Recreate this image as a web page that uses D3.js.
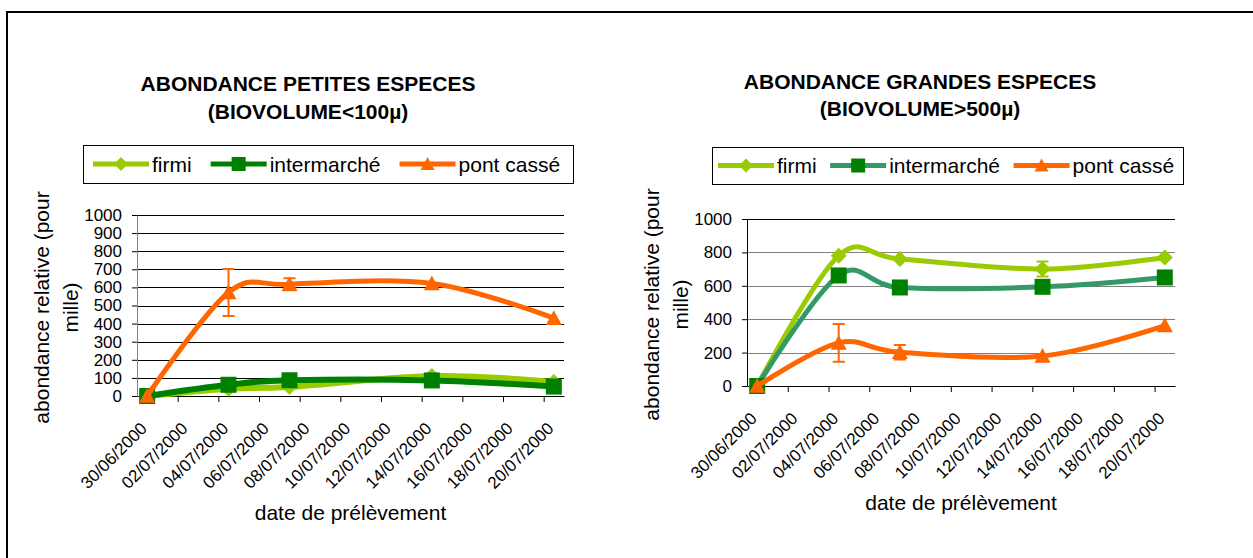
<!DOCTYPE html>
<html>
<head>
<meta charset="utf-8">
<script src="https://cdn.jsdelivr.net/npm/d3@7"></script>
<style>
  body { margin: 0; background: #fff; }
  svg { display: block; font-family: 'Liberation Sans', Arial, sans-serif; }
</style>
</head>
<body>
<div id="vis"></div>
<script>
// sampling dates and axis ticks
const sampleDates = ['30/06/2000', '04/07/2000', '07/07/2000', '14/07/2000', '20/07/2000'];
const tickLabels = ['30/06/2000', '02/07/2000', '04/07/2000', '06/07/2000', '08/07/2000',
  '10/07/2000', '12/07/2000', '14/07/2000', '16/07/2000', '18/07/2000', '20/07/2000'];
const seriesNames = ['firmi', 'intermarché', 'pont cassé'];

// petites especes (biovolume < 100)
const smallFirmi = [0, 40, 50, 110, 78];
const smallIntermarche = [0, 62, 87, 86, 52];
const smallPontCasse = [0, 572, 617, 622, 430];
const smallPontCasseErr = [0, 130, 33, 0, 0];
const smallTicks = [0, 100, 200, 300, 400, 500, 600, 700, 800, 900, 1000];

// grandes especes (biovolume > 500)
const largeFirmi = [0, 780, 760, 700, 770];
const largeFirmiErr = [0, 0, 0, 45, 0];
const largeIntermarche = [0, 662, 590, 594, 650];
const largePontCasse = [0, 258, 202, 180, 362];
const largePontCasseErr = [0, 113, 44, 0, 0];
const largeTicks = [0, 200, 400, 600, 800, 1000];

const parseDate = d3.timeParse('%d/%m/%Y');
const formatDate = d3.timeFormat('%d/%m/%Y');

const markers = {
  diamond: r => `M0,${-r}L${r},0L0,${r}L${-r},0Z`,
  square: r => `M${-r},${-r}h${2 * r}v${2 * r}h${-2 * r}Z`,
  triangle: r => `M0,${-r}L${r},${r * 0.85}L${-r},${r * 0.85}Z`
};


function getSvg() {
  const svg = d3.select('#vis').append('svg')
      .attr('width', 1253)
      .attr('height', 558);

  svg.append('path')
      .attr('d', 'M7,558V12H1253')
      .attr('fill', 'none')
      .attr('stroke', '#000')
      .attr('stroke-width', 2);

  return svg;
}


function drawChart(svg, cfg) {
  const plot = cfg.plot;
  const dates = sampleDates.map(parseDate);
  const ticks = tickLabels.map(parseDate);

  const x = d3.scaleTime()
      .domain([ticks[0], d3.timeDay.offset(ticks[ticks.length - 1], 1)])
      .range([plot.left, plot.right]);

  const y = d3.scaleLinear()
      .domain([0, d3.max(cfg.yTicks)])
      .range([plot.bottom, plot.top]);

  // excel puts each point in the middle of its day
  const px = i => x(d3.timeHour.offset(dates[i], 12));

  // gridlines
  svg.append('g')
    .selectAll('line')
    .data(cfg.yTicks.filter(d => d > 0))
    .join('line')
      .attr('x1', plot.left)
      .attr('x2', plot.right)
      .attr('y1', d => Math.round(y(d)) + 0.5)
      .attr('y2', d => Math.round(y(d)) + 0.5)
      .attr('stroke', d => d === d3.max(cfg.yTicks) ? '#000' : cfg.gridColor);

  const yAxis = svg.append('g')
      .attr('transform', `translate(${plot.left}, 0)`)
      .call(d3.axisLeft(y)
        .tickValues(cfg.yTicks)
        .tickFormat(d3.format('d'))
        .tickSize(5)
        .tickPadding(10)
        .tickSizeOuter(0))
      .attr('font-family', null)
      .attr('font-size', 17);
  yAxis.select('.domain').attr('stroke', cfg.yAxisColor);

  const xAxis = svg.append('g')
      .attr('transform', `translate(0, ${plot.bottom})`)
      .call(d3.axisBottom(x).tickValues(ticks).tickFormat(formatDate).tickSize(6).tickSizeOuter(0))
      .attr('font-family', null)
      .attr('font-size', 17);
  xAxis.selectAll('.tick line').filter((d, i) => i === 0).remove();
  xAxis.selectAll('.tick text')
      .attr('x', 0)
      .attr('y', 0)
      .attr('dy', '0.71em')
      .attr('text-anchor', 'end')
      .attr('transform', 'translate(2, 25) rotate(-45)');

  // axis titles
  svg.append('text')
      .attr('x', (plot.left + plot.right) / 2)
      .attr('y', plot.bottom + 124)
      .attr('text-anchor', 'middle')
      .attr('font-size', 21)
      .text('date de prélèvement');

  const yTitle = svg.append('text')
      .attr('transform', `translate(${plot.left - 88}, ${(plot.top + plot.bottom) / 2 + 2}) rotate(-90)`)
      .attr('text-anchor', 'middle')
      .attr('font-size', 21);
  yTitle.append('tspan').attr('x', 0).attr('y', 0).text('abondance relative (pour');
  yTitle.append('tspan').attr('x', 0).attr('y', 29).text('mille)');

  // chart title
  const title = svg.append('text')
      .attr('text-anchor', 'middle')
      .attr('font-size', 21)
      .attr('font-weight', 'bold');
  cfg.title.forEach((t, i) => {
    title.append('tspan')
        .attr('x', cfg.titlePos.x)
        .attr('y', cfg.titlePos.y[i])
        .text(t);
  });

  // series
  const line = d3.line()
      .x((d, i) => px(i))
      .y(d => y(d))
      .curve(d3.curveCardinal);

  cfg.series.forEach(s => {
    svg.append('path')
        .datum(s.values)
        .attr('d', line)
        .attr('fill', 'none')
        .attr('stroke', s.line)
        .attr('stroke-width', s.width)
        .attr('stroke-linejoin', 'round');

    if (s.err) {
      svg.append('g')
          .attr('stroke', s.line)
          .attr('stroke-width', 2)
          .attr('fill', 'none')
        .selectAll('path')
        .data(s.values.map((v, i) => ({i, v, e: s.err[i]})).filter(d => d.e > 0))
        .join('path')
          .attr('d', d => {
            const cx = px(d.i);
            const y0 = y(d.v - d.e);
            const y1 = y(d.v + d.e);
            return `M${cx},${y0}V${y1}M${cx - 6},${y0}h12M${cx - 6},${y1}h12`;
          });
    }

    svg.append('g')
      .selectAll('path')
      .data(s.values)
      .join('path')
        .attr('transform', (d, i) => `translate(${px(i)}, ${y(d)})`)
        .attr('d', markers[s.shape](8))
        .attr('fill', s.marker);
  });

  // legend
  const lg = cfg.legend;
  const legend = svg.append('g');
  legend.append('rect')
      .attr('x', lg.x + 0.5)
      .attr('y', lg.y + 0.5)
      .attr('width', lg.w)
      .attr('height', lg.h)
      .attr('fill', '#fff')
      .attr('stroke', '#000');

  const cy = lg.y + lg.h / 2;
  let cx = lg.x + lg.pad;
  cfg.series.forEach(s => {
    legend.append('line')
        .attr('x1', cx)
        .attr('x2', cx + 56)
        .attr('y1', cy)
        .attr('y2', cy)
        .attr('stroke', s.line)
        .attr('stroke-width', 5);
    legend.append('path')
        .attr('transform', `translate(${cx + 28}, ${cy})`)
        .attr('d', markers[s.shape](7))
        .attr('fill', s.marker);
    const t = legend.append('text')
        .attr('x', cx + 59)
        .attr('y', cy + 7.5)
        .attr('font-size', 21)
        .text(s.name);
    cx += 59 + t.node().getComputedTextLength() + lg.gap;
  });
}


const svg = getSvg();

drawChart(svg, {
  plot: {left: 137, right: 564, top: 215, bottom: 396},
  yTicks: smallTicks,
  gridColor: '#000',
  yAxisColor: '#808080',
  title: ['ABONDANCE PETITES ESPECES', '(BIOVOLUME<100µ)'],
  titlePos: {x: 308, y: [91, 119]},
  legend: {x: 83, y: 145, w: 490, h: 38, pad: 10, gap: 19},
  series: [
    {name: seriesNames[0], values: smallFirmi, line: '#99cc00', marker: '#99cc00', shape: 'diamond', width: 6},
    {name: seriesNames[1], values: smallIntermarche, line: '#008000', marker: '#008000', shape: 'square', width: 6},
    {name: seriesNames[2], values: smallPontCasse, err: smallPontCasseErr, line: '#ff6600', marker: '#ff6600', shape: 'triangle', width: 5}
  ]
});

drawChart(svg, {
  plot: {left: 747, right: 1175, top: 219, bottom: 386},
  yTicks: largeTicks,
  gridColor: '#808080',
  yAxisColor: '#000',
  title: ['ABONDANCE GRANDES ESPECES', '(BIOVOLUME>500µ)'],
  titlePos: {x: 920, y: [89, 116]},
  legend: {x: 712, y: 147, w: 471, h: 37, pad: 6, gap: 13.5},
  series: [
    {name: seriesNames[0], values: largeFirmi, err: largeFirmiErr, line: '#99cc00', marker: '#99cc00', shape: 'diamond', width: 5},
    {name: seriesNames[1], values: largeIntermarche, line: '#339966', marker: '#008000', shape: 'square', width: 5},
    {name: seriesNames[2], values: largePontCasse, err: largePontCasseErr, line: '#ff6600', marker: '#ff6600', shape: 'triangle', width: 5}
  ]
});
</script>
</body>
</html>
